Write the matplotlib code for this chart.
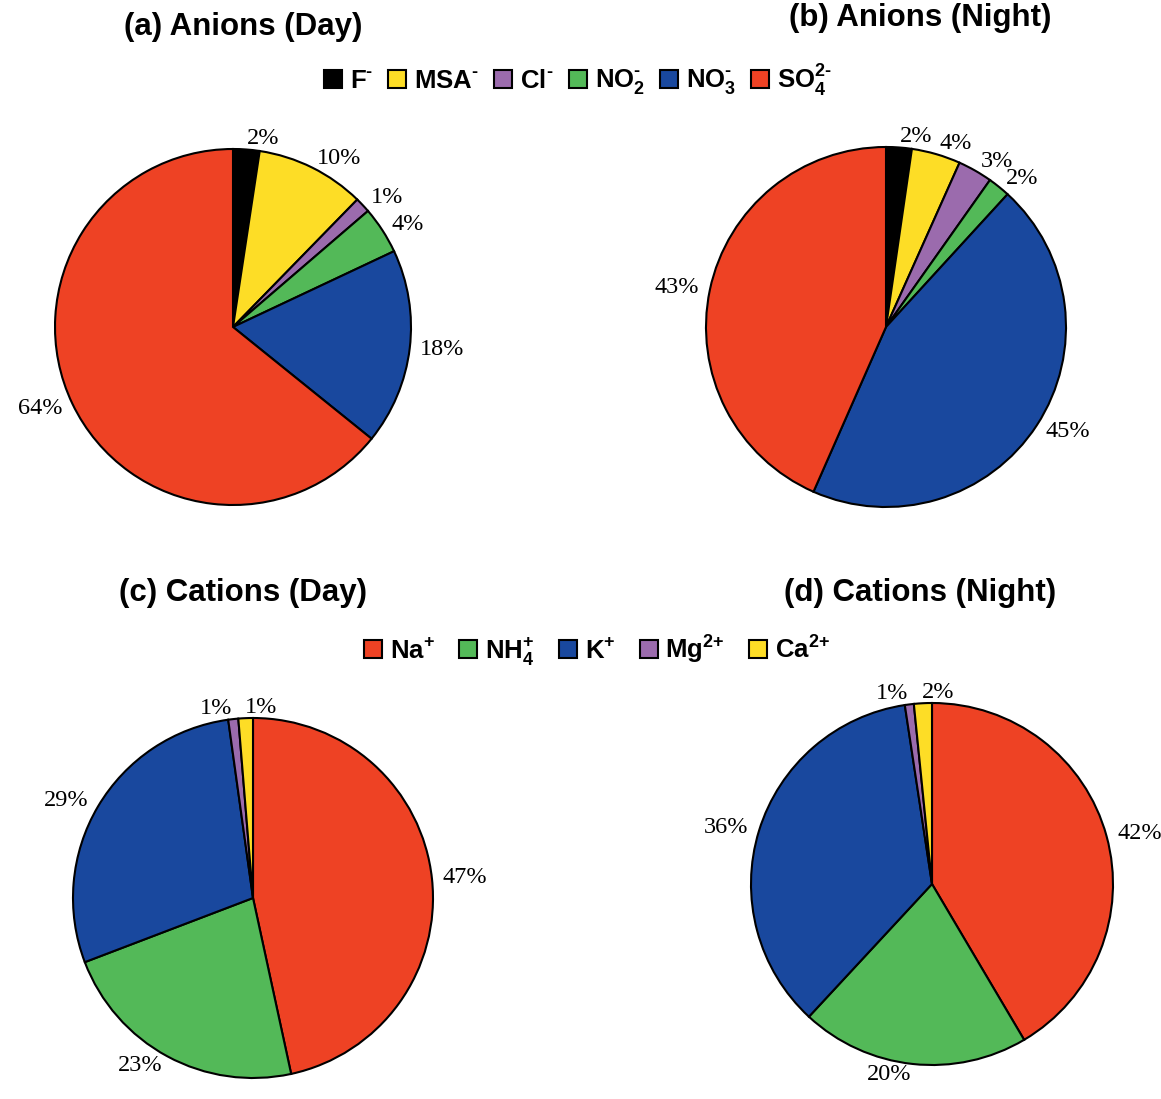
import matplotlib
matplotlib.use("Agg")
import matplotlib.pyplot as plt
from matplotlib.patches import Patch

plt.rcParams['font.family'] = 'Liberation Sans'
plt.rcParams['mathtext.fontset'] = 'custom'
plt.rcParams['mathtext.rm'] = 'Liberation Sans:bold'
plt.rcParams['mathtext.bf'] = 'Liberation Sans:bold'

# ion fractions (%), clockwise from 12 o'clock
anion_names = [r'$\mathbf{F}^{\text{-}}$', r'$\mathbf{MSA}^{\text{-}}$', r'$\mathbf{Cl}^{\text{-}}$',
               r'$\mathbf{NO}_2^{\text{-}}$', r'$\mathbf{NO}_3^{\text{-}}$', r'$\mathbf{SO}_4^{\text{2-}}$']
anion_day = [2.4, 9.9, 1.4, 4.3, 17.8, 64.2]
anion_night = [2.3, 4.4, 3.1, 2.0, 44.8, 43.4]
anion_colors = ['#000000', '#FDDD26', '#9B6BAD', '#53B958', '#19489E', '#EE4224']

cation_names = [r'$\mathbf{Na}^{\text{+}}$', r'$\mathbf{NH}_4^{\text{+}}$', r'$\mathbf{K}^{\text{+}}$',
                r'$\mathbf{Mg}^{\text{2+}}$', r'$\mathbf{Ca}^{\text{2+}}$']
cation_day = [46.6, 22.6, 28.6, 0.9, 1.3]
cation_night = [41.5, 20.4, 35.7, 0.8, 1.6]
cation_colors = ['#EE4224', '#53B958', '#19489E', '#9B6BAD', '#FDDD26']

W, H = 1161, 1099
fig = plt.figure(figsize=(W / 100, H / 100), dpi=100)


def pie_at(cx, cy, r, values, colors, left_idx=()):
    ax = fig.add_axes([(cx - r) / W, 1 - (cy + r) / H, 2 * r / W, 2 * r / H])
    labels = ['%d%%' % round(v) for v in values]
    wedges, texts = ax.pie(values, colors=colors, labels=labels, startangle=90,
                           counterclock=False, labeldistance=1.06,
                           wedgeprops=dict(edgecolor='black', linewidth=1.5),
                           textprops=dict(family='Liberation Serif', fontsize=17.5))
    for i in left_idx:
        texts[i].set_ha('left')
    ax.set_xlim(-1, 1)
    ax.set_ylim(-1, 1)
    ax.set_aspect('equal')
    return ax


pie_at(233, 327, 178, anion_day, anion_colors)
pie_at(886, 327, 180, anion_night, anion_colors)
pie_at(253, 898, 180, cation_day, cation_colors, left_idx=(4,))
pie_at(932, 884, 181, cation_night, cation_colors, left_idx=(4,))

title_kw = dict(fontsize=22.5, fontweight='bold', ha='center', va='center')
fig.text(243 / W, 1 - 27 / H, '(a) Anions (Day)', **title_kw)
fig.text(920 / W, 1 - 18 / H, '(b) Anions (Night)', **title_kw)
fig.text(243 / W, 1 - 593 / H, '(c) Cations (Day)', **title_kw)
fig.text(920 / W, 1 - 593 / H, '(d) Cations (Night)', **title_kw)

leg_kw = dict(frameon=False, fontsize=18.5, handlelength=0.7, handleheight=0.7,
              handletextpad=0.3, columnspacing=0.6, loc='center')
fig.legend([Patch(facecolor=c, edgecolor='black', linewidth=1.5) for c in anion_colors],
           anion_names, ncol=6, bbox_to_anchor=(578 / W, 1 - 80 / H), **leg_kw)
leg_kw['columnspacing'] = 0.95
fig.legend([Patch(facecolor=c, edgecolor='black', linewidth=1.5) for c in cation_colors],
           cation_names, ncol=5, bbox_to_anchor=(597 / W, 1 - 650 / H), **leg_kw)

fig.savefig('out.png', dpi=100)
